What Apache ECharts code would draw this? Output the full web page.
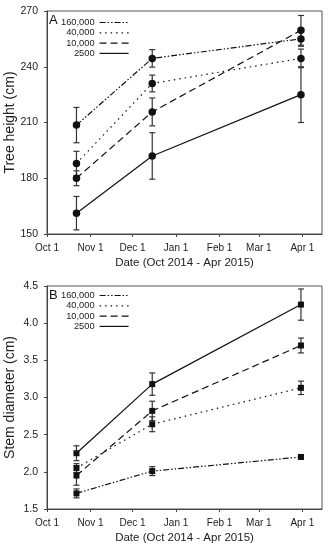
<!DOCTYPE html>
<html><head><meta charset="utf-8">
<script src="https://cdn.jsdelivr.net/npm/echarts@6/dist/echarts.min.js"></script>
<style>html,body{margin:0;padding:0;background:#fff}#c{width:330px;height:550px}</style>
</head><body><div id="c"></div>
<script>
// Sampling dates as days since Oct 1 2014 (Oct 22, Dec 15, Mar 31)
const sampleDays = [21, 75, 181];
const tickDays = [0, 31, 61, 92, 123, 151, 182];
const tickLabels = ['Oct 1', 'Nov 1', 'Dec 1', 'Jan 1', 'Feb 1', 'Mar 1', 'Apr 1'];
const densities = ['160,000', '40,000', '10,000', '2500'];

// Panel A: tree height (cm), mean and error
const height160000 = [208.6, 244.5, 255.0];
const height40000 = [188.0, 231.0, 244.5];
const height10000 = [180.0, 215.7, 259.6];
const height2500 = [161.2, 192.0, 225.0];
const heightErr160000 = [9.5, 4.7, 4];
const heightErr40000 = [6.5, 4.5, 5];
const heightErr10000 = [4, 7.5, 8];
const heightErr2500 = [9, 12.5, 15];

// Panel B: stem diameter (cm), mean and error
const diam160000 = [1.71, 2.01, 2.20];
const diam40000 = [2.05, 2.64, 3.13];
const diam10000 = [1.95, 2.82, 3.70];
const diam2500 = [2.25, 3.18, 4.25];
const diamErr160000 = [0.06, 0.06, 0.03];
const diamErr40000 = [0.06, 0.10, 0.09];
const diamErr10000 = [0.13, 0.13, 0.10];
const diamErr2500 = [0.10, 0.15, 0.21];

const heightTicks = [150, 180, 210, 240, 270];
const diamTicks = [1.5, 2.0, 2.5, 3.0, 3.5, 4.0, 4.5];

const FONT = 'Liberation Sans, Arial, sans-serif';
const dashes = {
  '160,000': [6, 2, 1.5, 2, 1.5, 2],
  '40,000': [1.5, 4],
  '10,000': [7, 4],
  '2500': 'solid'
};

const heightMeans = [height160000, height40000, height10000, height2500];
const heightErrs = [heightErr160000, heightErr40000, heightErr10000, heightErr2500];
const diamMeans = [diam160000, diam40000, diam10000, diam2500];
const diamErrs = [diamErr160000, diamErr40000, diamErr10000, diamErr2500];

function errRender(params, api) {
  const x = api.value(0), lo = api.value(1), hi = api.value(2);
  const a = api.coord([x, lo]), b = api.coord([x, hi]);
  const w = 3;
  const st = { stroke: '#333', lineWidth: 1.2 };
  return { type: 'group', children: [
    { type: 'line', shape: { x1: a[0], y1: a[1], x2: b[0], y2: b[1] }, style: st },
    { type: 'line', shape: { x1: a[0] - w, y1: a[1], x2: a[0] + w, y2: a[1] }, style: st },
    { type: 'line', shape: { x1: b[0] - w, y1: b[1], x2: b[0] + w, y2: b[1] }, style: st }
  ]};
}

const series = [];
function addPanel(idx, means, errs, symbol, size) {
  densities.forEach((name, i) => {
    series.push({
      type: 'custom', xAxisIndex: idx, yAxisIndex: idx, renderItem: errRender, z: 2,
      encode: { x: 0, y: [1, 2] }, silent: true,
      data: sampleDays.map((d, k) => [d, means[i][k] - errs[i][k], means[i][k] + errs[i][k]])
    });
    series.push({
      type: 'line', name: name, xAxisIndex: idx, yAxisIndex: idx, z: 3,
      symbol: symbol, symbolSize: size, showSymbol: true,
      itemStyle: { color: '#111' },
      lineStyle: { color: '#111', width: 1.2, type: dashes[name] },
      data: sampleDays.map((d, k) => [d, means[i][k]])
    });
  });
}
addPanel(0, heightMeans, heightErrs, 'circle', 7.5);
addPanel(1, diamMeans, diamErrs, 'rect', 6);

function xAxis(idx) {
  return {
    type: 'value', gridIndex: idx, min: 0, max: 196,
    axisLine: { show: true, lineStyle: { color: '#444', width: 1 } },
    axisTick: { show: true, customValues: tickDays, length: 3, lineStyle: { color: '#444' } },
    axisLabel: { customValues: tickDays, margin: 9, fontSize: 10, color: '#222', fontFamily: FONT,
      formatter: v => tickLabels[tickDays.indexOf(v)] },
    splitLine: { show: false },
    name: 'Date (Oct 2014 - Apr 2015)', nameLocation: 'middle', nameGap: 23, nameMoveOverlap: false,
    nameTextStyle: { fontSize: 11.5, color: '#222', fontFamily: FONT }
  };
}
function yAxis(idx, min, max, interval, name, fmt) {
  return {
    type: 'value', gridIndex: idx, min: min, max: max, interval: interval,
    axisLine: { show: true, lineStyle: { color: '#444', width: 1 } },
    axisTick: { show: true, length: 3, lineStyle: { color: '#444' } },
    axisLabel: { margin: 9, fontSize: 10.5, color: '#222', fontFamily: FONT, formatter: fmt },
    splitLine: { show: false },
    name: name, nameLocation: 'middle', nameGap: 30, nameMoveOverlap: false,
    nameTextStyle: { fontSize: 14, color: '#222', fontFamily: FONT }
  };
}
function legend(top) {
  return {
    data: densities, orient: 'vertical', align: 'right', left: 61, top: top, padding: 0,
    itemWidth: 29, itemHeight: 10, itemGap: 1.3, selectedMode: false,
    itemStyle: { opacity: 0 },
    lineStyle: { width: 1.2, color: '#111' },
    textStyle: { fontSize: 9.3, color: '#222', fontFamily: FONT }
  };
}

const chart = echarts.init(document.getElementById('c'), null, { renderer: 'canvas' });
chart.setOption({
  animation: false,
  backgroundColor: '#fff',
  title: [
    { text: 'A', left: 49, top: 14, padding: 0, textStyle: { fontSize: 13, fontWeight: 'normal', color: '#111', fontFamily: FONT } },
    { text: 'B', left: 49, top: 289, padding: 0, textStyle: { fontSize: 13, fontWeight: 'normal', color: '#111', fontFamily: FONT } }
  ],
  grid: [
    { left: 47, right: 8, top: 11, height: 223, show: true, borderColor: '#555', borderWidth: 1, outerBoundsMode: 'none', containLabel: false },
    { left: 47, right: 8, top: 286, height: 223, show: true, borderColor: '#555', borderWidth: 1, outerBoundsMode: 'none', containLabel: false }
  ],
  legend: [legend(18), legend(291)],
  xAxis: [xAxis(0), xAxis(1)],
  yAxis: [
    yAxis(0, heightTicks[0], heightTicks[heightTicks.length - 1], 30, 'Tree height (cm)', v => String(v)),
    yAxis(1, diamTicks[0], diamTicks[diamTicks.length - 1], 0.5, 'Stem diameter (cm)', v => v.toFixed(1))
  ],
  series: series
});
</script></body></html>
